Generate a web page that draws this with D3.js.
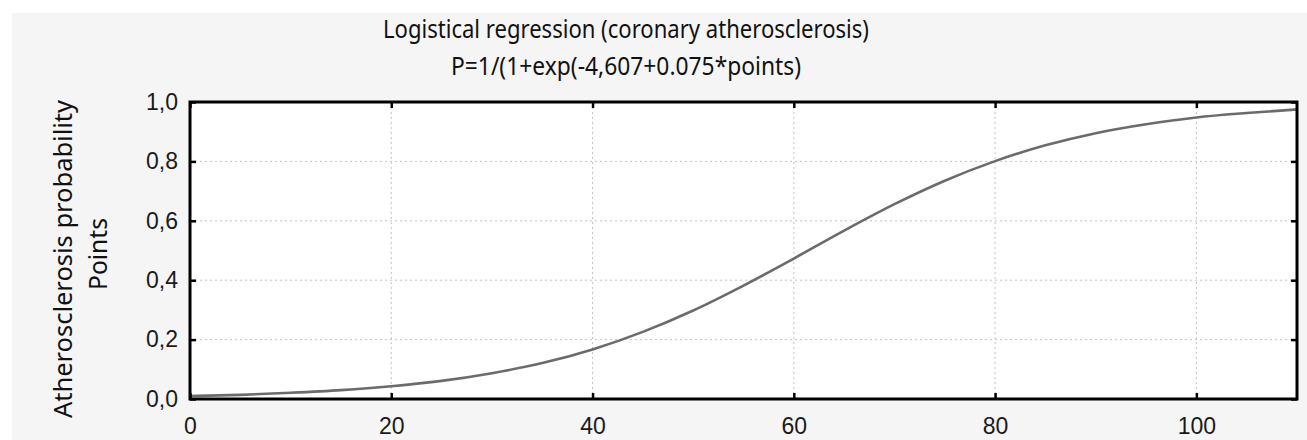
<!DOCTYPE html>
<html>
<head>
<meta charset="utf-8">
<script src="https://cdn.jsdelivr.net/npm/d3@7"></script>
<style>
  body { margin: 0; background: #fff; }
  svg { display: block; }
</style>
</head>
<body>
<div id="chart"></div>
<script>
const points = [0, 5, 10, 15, 20, 25, 30, 35, 40, 45, 50, 55, 60, 65, 70, 75, 80, 85, 90, 95, 100, 105, 110];
const probability = [0.010, 0.014, 0.021, 0.030, 0.043, 0.061, 0.087, 0.121, 0.167, 0.226, 0.298, 0.382,
  0.473, 0.567, 0.656, 0.735, 0.801, 0.854, 0.895, 0.925, 0.948, 0.963, 0.975];
const xTicks = [0, 20, 40, 60, 80, 100];
const yTicks = [0, 0.2, 0.4, 0.6, 0.8, 1.0];
const titleLines = ["Logistical regression (coronary atherosclerosis)", "P=1/(1+exp(-4,607+0.075*points)"];
const yLabelLines = ["Atherosclerosis probability", "Points"];

const width = 1307;
const height = 440;
const plot = { left: 190, right: 1297, top: 102, bottom: 399 };

const svg = d3.select("#chart")
  .append("svg")
  .attr("width", width)
  .attr("height", height);

svg.append("rect")
  .attr("x", 12).attr("y", 13)
  .attr("width", width - 12).attr("height", height - 13)
  .attr("fill", "#f5f5f5");

const x = d3.scaleLinear().domain([0, 110]).range([plot.left, plot.right]);
const y = d3.scaleLinear().domain([0, 1]).range([plot.bottom, plot.top]);

svg.append("rect")
  .attr("x", plot.left).attr("y", plot.top)
  .attr("width", plot.right - plot.left).attr("height", plot.bottom - plot.top)
  .attr("fill", "#fff");

// dotted grid
svg.append("g")
  .selectAll("line")
  .data(xTicks.filter(d => d > 0))
  .enter()
  .append("line")
  .attr("x1", d => x(d)).attr("x2", d => x(d))
  .attr("y1", plot.top).attr("y2", plot.bottom)
  .attr("stroke", "#c4c4c4")
  .attr("stroke-dasharray", "2,3");

svg.append("g")
  .selectAll("line")
  .data(yTicks.filter(d => d > 0 && d < 1))
  .enter()
  .append("line")
  .attr("y1", d => y(d)).attr("y2", d => y(d))
  .attr("x1", plot.left).attr("x2", plot.right)
  .attr("stroke", "#c4c4c4")
  .attr("stroke-dasharray", "2,3");

// curve
const line = d3.line()
  .x((d, i) => x(points[i]))
  .y(d => y(d))
  .curve(d3.curveMonotoneX);

svg.append("path")
  .datum(probability)
  .attr("d", line)
  .attr("fill", "none")
  .attr("stroke", "#6b6b6b")
  .attr("stroke-width", 2.6);

// axes, ticks pointing inward
const axisStyle = g => {
  g.select(".domain").remove();
  g.selectAll(".tick line").attr("stroke", "#000").attr("stroke-width", 2.5);
  g.selectAll(".tick text")
    .attr("font-family", "'Liberation Sans', Arial, sans-serif")
    .attr("font-size", 23)
    .attr("fill", "#1a1a1a");
};

svg.append("g")
  .attr("transform", `translate(0,${plot.bottom})`)
  .call(d3.axisBottom(x).tickValues(xTicks).tickSizeInner(-6).tickSizeOuter(0).tickPadding(19).tickFormat(d3.format("d")))
  .call(axisStyle);

svg.append("g")
  .attr("transform", `translate(0,${plot.top})`)
  .call(d3.axisTop(x).tickValues(xTicks).tickSizeInner(-6).tickSizeOuter(0).tickFormat(""))
  .call(axisStyle);

svg.append("g")
  .attr("transform", `translate(${plot.left},0)`)
  .call(d3.axisLeft(y).tickValues(yTicks).tickSizeInner(-6).tickSizeOuter(0).tickPadding(12)
    .tickFormat(d => d.toFixed(1).replace(".", ",")))
  .call(axisStyle);

svg.append("g")
  .attr("transform", `translate(${plot.right},0)`)
  .call(d3.axisRight(y).tickValues(yTicks).tickSizeInner(-6).tickSizeOuter(0).tickFormat(""))
  .call(axisStyle);

// frame
svg.append("rect")
  .attr("x", plot.left).attr("y", plot.top)
  .attr("width", plot.right - plot.left).attr("height", plot.bottom - plot.top)
  .attr("fill", "none")
  .attr("stroke", "#000")
  .attr("stroke-width", 3);

// title
const titleFont = "'Noto Sans', 'Open Sans', sans-serif";
svg.append("g")
  .selectAll("text")
  .data(titleLines)
  .enter()
  .append("text")
  .attr("x", 626)
  .attr("y", (d, i) => 38 + i * 37)
  .attr("text-anchor", "middle")
  .attr("font-family", titleFont)
  .attr("font-size", 26)
  .attr("fill", "#111")
  .attr("textLength", (d, i) => [486, 350][i])
  .attr("lengthAdjust", "spacingAndGlyphs")
  .text(d => d);

// y label
svg.append("g")
  .selectAll("text")
  .data(yLabelLines)
  .enter()
  .append("text")
  .attr("transform", (d, i) => `translate(${[72, 107][i]},${[259, 254][i]}) rotate(-90)`)
  .attr("text-anchor", "middle")
  .attr("font-family", titleFont)
  .attr("font-size", 25)
  .attr("fill", "#111")
  .attr("textLength", (d, i) => [318, 72][i])
  .attr("lengthAdjust", "spacingAndGlyphs")
  .text(d => d);
</script>
</body>
</html>
